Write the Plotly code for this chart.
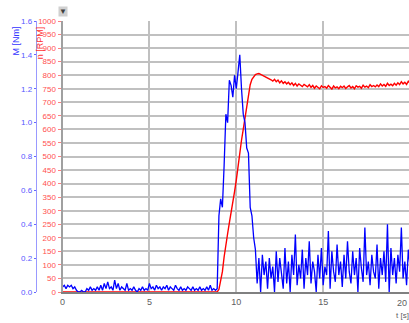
import plotly.graph_objects as go

# Torque M [Nm], sampled every 0.1 s from t = 0.0
torque = [
    0.03, 0.04, 0.02, 0.04, 0.03, 0.04, 0.02, 0.03, 0.01, 0.00,
    0.00, 0.01, 0.00, 0.00, 0.02, 0.01, 0.03, 0.01, 0.02, 0.01,
    0.03, 0.01, 0.04, 0.01, 0.05, 0.02, 0.06, 0.02, 0.03, 0.01,
    0.07, 0.02, 0.05, 0.01, 0.03, 0.02, 0.01, 0.05, 0.01, 0.02,
    0.01, 0.03, 0.01, 0.00, 0.02, 0.01, 0.03, 0.01, 0.02, 0.01,
    0.05, 0.02, 0.03, 0.01, 0.04, 0.02, 0.03, 0.01, 0.03, 0.02,
    0.04, 0.01, 0.03, 0.02, 0.01, 0.04, 0.02, 0.01, 0.03, 0.01,
    0.02, 0.01, 0.03, 0.02, 0.01, 0.03, 0.01, 0.02, 0.01, 0.03,
    0.01, 0.02, 0.01, 0.03, 0.01, 0.04, 0.01, 0.02, 0.01, 0.02,
    0.45, 0.55, 0.50, 0.75, 1.05, 1.00, 1.25, 1.22, 1.15, 1.28,
    1.20, 1.30, 1.40, 1.20, 1.05, 1.00, 0.85, 0.82, 0.50, 0.45,
    0.32, 0.25, 0.05, 0.20, 0.00, 0.22, 0.10, 0.18, 0.02, 0.20,
    0.08, 0.15, 0.00, 0.24, 0.06, 0.20, 0.12, 0.02, 0.26, 0.05,
    0.18, 0.00, 0.22, 0.10, 0.34, 0.04, 0.16, 0.08, 0.25, 0.02,
    0.20, 0.10, 0.30, 0.05, 0.18, 0.12, 0.00, 0.22, 0.08, 0.26,
    0.04, 0.15, 0.10, 0.36, 0.02, 0.24, 0.12, 0.06, 0.28, 0.10,
    0.18, 0.03, 0.22, 0.08, 0.30, 0.12, 0.05, 0.24, 0.10, 0.20,
    0.00, 0.26, 0.14, 0.06, 0.38, 0.10, 0.18, 0.04, 0.22, 0.12,
    0.08, 0.28, 0.02, 0.20, 0.10, 0.24, 0.06, 0.40, 0.00, 0.26,
    0.10, 0.20, 0.05, 0.22, 0.12, 0.38, 0.08, 0.18, 0.04, 0.25,
    0.15,
]

# Speed n [RPM], sampled every 0.1 s from t = 0.0
speed = [0] * 90 + [
    10, 40, 75, 130, 180, 215, 255, 290, 330, 370,
    413, 470, 510, 560, 600, 645, 690, 730, 765, 785,
    795, 802, 805, 806, 803, 800, 795, 792, 790, 785,
    783, 778, 785, 776, 782, 772, 779, 770, 776, 768,
    774, 765, 772, 762, 770, 760, 768, 763, 758, 766,
    760, 757, 765, 755, 762, 752, 760, 756, 750, 761,
    755, 758, 752, 762, 754, 749, 760, 753, 757, 750,
    759, 754, 760, 751, 757, 762, 753, 758, 750, 761,
    756, 759, 752, 763, 756, 760, 754, 765, 758, 762,
    757, 764, 758, 768, 760, 766, 759, 770, 762, 767,
    761, 770, 763, 772, 765, 776, 768, 774, 766, 778,
    770,
]

time = [round(i * 0.1, 1) for i in range(len(torque))]

x_ticks = [0, 5, 10, 15]
rpm_ticks = list(range(0, 1001, 50))
nm_ticks = [0.0, 0.2, 0.4, 0.6, 0.8, 1.0, 1.2, 1.4, 1.6]
nm_labels = ["0.0", "0.2", "0.4", "0.6", "0.8", "1.0", "1.2", "1.4", "1.6"]

W, H = 409, 323
T, B = 21, 31
x0 = 60 / W
ph = H - T - B

fig = go.Figure()
fig.add_trace(go.Scatter(x=time, y=speed, mode="lines",
                         line=dict(color="#ff0000", width=1.4),
                         yaxis="y", showlegend=False, cliponaxis=False))
fig.add_trace(go.Scatter(x=time, y=torque, mode="lines",
                         line=dict(color="#0000ff", width=1.3),
                         yaxis="y2", showlegend=False, cliponaxis=False))

fig.update_layout(
    width=W, height=H,
    margin=dict(l=0, r=0, t=T, b=B),
    paper_bgcolor="white", plot_bgcolor="white",
    font=dict(family="Liberation Sans, Arial, sans-serif"),
    title=dict(text="t [s]", x=1, xref="paper", xanchor="right",
               y=8 / H, yref="container", yanchor="middle",
               font=dict(size=8, color="#606060")),
    xaxis=dict(domain=[x0, 1], range=[0, 19.94], tickvals=x_ticks,
               showgrid=True, gridcolor="#c0c0c0", gridwidth=2,
               showline=True, linecolor="#808080", linewidth=2,
               zeroline=False, ticks="", tickfont=dict(size=9, color="#606060")),
    yaxis=dict(range=[0, 1000], tickvals=rpm_ticks,
               showgrid=True, gridcolor="#c0c0c0", gridwidth=2,
               showline=True, linecolor="#a0a0a0", linewidth=2,
               zeroline=False, ticks="outside", ticklen=3, tickcolor="#ff8080",
               tickfont=dict(size=8, color="#ff5050")),
    yaxis2=dict(overlaying="y", anchor="free", position=33 / W,
                range=[0, 1.6], tickvals=nm_ticks, ticktext=nm_labels,
                showgrid=False, zeroline=False,
                showline=True, linecolor="#9999ff", linewidth=1,
                ticks="outside", ticklen=2, tickcolor="#6666ff",
                tickfont=dict(size=8, color="#5555ff")),
)

fig.add_annotation(text="M [Nm]", textangle=-90, xref="paper", yref="paper",
                   x=14 / W, y=1 - 3 / ph, xanchor="center", yanchor="top",
                   showarrow=False, font=dict(size=9, color="#3333ff"))
fig.add_annotation(text="n [RPM]", textangle=-90, xref="paper", yref="paper",
                   x=38 / W, y=1 - 3 / ph, xanchor="center", yanchor="top",
                   showarrow=False, font=dict(size=9, color="#ff3333"))
fig.add_annotation(text="▼", xref="x", yref="paper", x=0, y=1 + 4 / ph,
                   xanchor="center", yanchor="bottom", showarrow=False,
                   bgcolor="#d0d0d0", borderpad=0,
                   font=dict(size=8, color="#404040"))
fig.add_annotation(text="20", xref="paper", yref="paper", x=1, y=0,
                   yshift=-4, xanchor="right", yanchor="top", showarrow=False,
                   font=dict(size=9, color="#606060"))

fig.write_html("out.html")
